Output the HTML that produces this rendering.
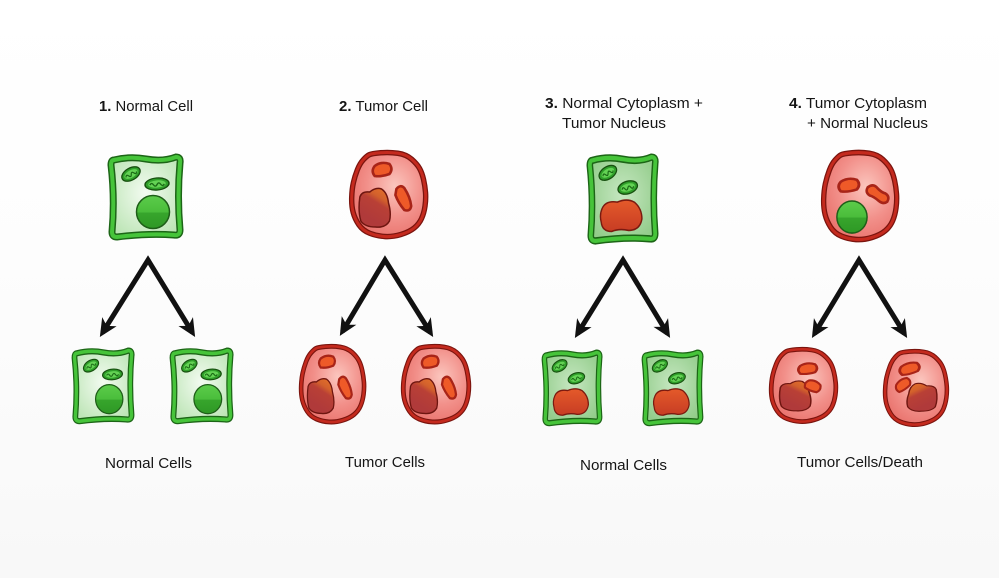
<!DOCTYPE html>
<html>
<head>
<meta charset="utf-8">
<style>
  html,body{margin:0;padding:0;}
  body{width:999px;height:578px;overflow:hidden;background:#fff;}
  svg{display:block;}
  text{font-family:"Liberation Sans",sans-serif;font-size:15px;fill:#151515;}
  .b{font-weight:bold;}
</style>
</head>
<body>
<svg width="999" height="578" viewBox="0 0 999 578" xmlns="http://www.w3.org/2000/svg">
<defs>
  <linearGradient id="bg" x1="0" y1="0" x2="0" y2="1">
    <stop offset="0" stop-color="#ffffff"/>
    <stop offset="0.45" stop-color="#fdfdfd"/>
    <stop offset="1" stop-color="#f8f8f8"/>
  </linearGradient>
  <radialGradient id="gL" cx="0.5" cy="0.45" r="0.62">
    <stop offset="0" stop-color="#f3fbf1"/>
    <stop offset="1" stop-color="#bde5b6"/>
  </radialGradient>
  <radialGradient id="gM" cx="0.5" cy="0.45" r="0.62">
    <stop offset="0" stop-color="#c6e7c1"/>
    <stop offset="1" stop-color="#92cc8a"/>
  </radialGradient>
  <radialGradient id="rT" cx="0.58" cy="0.4" r="0.62">
    <stop offset="0" stop-color="#fbc6be"/>
    <stop offset="0.6" stop-color="#f2908a"/>
    <stop offset="1" stop-color="#ea7670"/>
  </radialGradient>
  <linearGradient id="gN" x1="0" y1="0" x2="0" y2="1">
    <stop offset="0" stop-color="#5ccc4b"/>
    <stop offset="0.5" stop-color="#4abd3b"/>
    <stop offset="0.53" stop-color="#37a52c"/>
    <stop offset="1" stop-color="#2e9825"/>
  </linearGradient>
  <linearGradient id="rN" x1="0.8" y1="0" x2="0.4" y2="0.8">
    <stop offset="0" stop-color="#e2702a"/>
    <stop offset="0.3" stop-color="#d2602c"/>
    <stop offset="0.48" stop-color="#b94036"/>
    <stop offset="1" stop-color="#b03a3a"/>
  </linearGradient>
  <linearGradient id="oN" x1="0" y1="0" x2="0" y2="1">
    <stop offset="0" stop-color="#e45a2a"/>
    <stop offset="1" stop-color="#c73c24"/>
  </linearGradient>

  <path id="gp" d="M6,6 Q22,2 38,5 Q55,8 68,3 Q73,3 72,9 Q69,42 72,76 Q72,82 66,81 Q40,79 9,83 Q4,83 4,78 Q7,45 3,11 Q3,6 6,6 Z"/>
  <path id="rp" d="M33,1.75 Q42,1 50.5,2.25 Q59,3.5 64.5,8.25 Q70,13 72.5,17.5 Q75,22 76.5,28.5 Q78,35 78.5,41.5 Q79,48 78,55 Q77,62 74.5,67.5 Q72,73 67,77 Q62,81 53.5,83.5 Q45,86 37,85.5 Q29,85 22,82.25 Q15,79.5 11,73.75 Q7,68 5.25,61.5 Q3.5,55 3.75,46.5 Q4,38 5.5,31.5 Q7,25 9.5,18.75 Q12,12.5 15.5,8.75 Q19,5 21.5,3.75 Q24,2.5 33,1.75 Z"/>
  <path id="nuc" d="M2,10 Q4,4 12,5 Q18,0 24,2 Q30,6 31,16 Q34,26 32,34 Q28,41 18,40 Q7,40 3,34 Q0,24 2,10 Z" fill="url(#rN)" stroke="#6e1510" stroke-width="1.5"/>
  <path id="blob" d="M3,4 Q10,-1 18,2 Q22,7 18,12 Q10,15 3,14 Q-1,9 3,4 Z" fill="#ee5a28" stroke="#a82418" stroke-width="2.6"/>
  <path id="elong" d="M2,4 Q6,-1 10,3 Q16,12 17,21 Q16,27 10,25 Q4,18 1,10 Z" fill="#ee5a28" stroke="#a82418" stroke-width="2.6"/>
  <path id="dumb" d="M2,3 Q8,-1 12,4 Q16,8 20,9 Q25,12 22,17 Q18,20 13,16 Q8,12 4,11 Q-1,8 2,3 Z" fill="#ee5a28" stroke="#a82418" stroke-width="2.6"/>

  <g id="mito">
    <ellipse cx="0" cy="0" rx="10" ry="6" fill="#2f9f2a" stroke="#17500f" stroke-width="1.3"/>
    <ellipse cx="0" cy="0" rx="7.3" ry="3.7" fill="#63d254"/>
    <path d="M-6,0.5 q1.5,-3 3,0 t3,0 t3,0 t3,0" fill="none" stroke="#1a6a15" stroke-width="1.2"/>
  </g>

  <g id="g1">
    <use href="#gp" fill="url(#gL)" stroke="#1c6516" stroke-width="7"/>
    <use href="#gp" fill="none" stroke="#46c43a" stroke-width="4"/>
    <use href="#mito" transform="translate(23,20) rotate(-30)"/>
    <use href="#mito" transform="translate(49,30) rotate(-5) scale(1.2,1)"/>
    <circle cx="45" cy="58" r="16.5" fill="url(#gN)" stroke="#1e5e18" stroke-width="1.5"/>
  </g>

  <g id="g3">
    <use href="#gp" fill="url(#gM)" stroke="#1c6516" stroke-width="7"/>
    <use href="#gp" fill="none" stroke="#46c43a" stroke-width="4"/>
    <use href="#mito" transform="translate(22,18) rotate(-28)"/>
    <use href="#mito" transform="translate(43,32) rotate(-15) scale(1.05,1)"/>
    <path d="M16,52 Q20,44 32,46 Q42,42 50,46 Q58,52 58,62 Q56,73 44,73 Q34,71 26,74 Q16,74 15,65 Q13,58 16,52 Z" fill="url(#oN)" stroke="#7a1a10" stroke-width="1.5"/>
  </g>

  <g id="tb">
    <use href="#rp" fill="url(#rT)" stroke="#7a140e" stroke-width="5.5"/>
    <use href="#rp" fill="none" stroke="#c42a1e" stroke-width="3"/>
  </g>

  <g id="t2">
    <use href="#tb"/>
    <use href="#nuc" transform="translate(10,36)"/>
    <use href="#blob" transform="translate(24,11)"/>
    <use href="#elong" transform="translate(47,34)"/>
  </g>

  <marker id="ah" markerUnits="userSpaceOnUse" markerWidth="24" markerHeight="24" viewBox="-2 -12 24 24" refX="13" refY="0" orient="auto-start-reverse" overflow="visible">
    <path d="M0,-8.5 L18,0 L0,8.5 L5,0 Z" fill="#111"/>
  </marker>
</defs>

<rect x="0" y="0" width="999" height="578" fill="url(#bg)"/>

<text x="99" y="111" textLength="94" lengthAdjust="spacingAndGlyphs"><tspan class="b">1.</tspan> Normal Cell</text>
<text x="339" y="111" textLength="89" lengthAdjust="spacingAndGlyphs"><tspan class="b">2.</tspan> Tumor Cell</text>
<text x="545" y="108" textLength="158" lengthAdjust="spacingAndGlyphs"><tspan class="b">3.</tspan> Normal Cytoplasm +</text>
<text x="562" y="128" textLength="104" lengthAdjust="spacingAndGlyphs">Tumor Nucleus</text>
<text x="789" y="108" textLength="138" lengthAdjust="spacingAndGlyphs"><tspan class="b">4.</tspan> Tumor Cytoplasm</text>
<text x="807" y="128" textLength="121" lengthAdjust="spacingAndGlyphs">+ Normal Nucleus</text>

<text x="105" y="468" textLength="87" lengthAdjust="spacingAndGlyphs">Normal Cells</text>
<text x="345" y="467" textLength="80" lengthAdjust="spacingAndGlyphs">Tumor Cells</text>
<text x="580" y="470" textLength="87" lengthAdjust="spacingAndGlyphs">Normal Cells</text>
<text x="797" y="467" textLength="126" lengthAdjust="spacingAndGlyphs">Tumor Cells/Death</text>

<g fill="none" stroke="#111" stroke-width="5" stroke-linejoin="miter" stroke-miterlimit="10">
  <polyline points="102.5,332.7 148,260 192.5,332.7" marker-start="url(#ah)" marker-end="url(#ah)"/>
  <polyline points="342.4,331.6 385,260 430.5,332.7" marker-start="url(#ah)" marker-end="url(#ah)"/>
  <polyline points="577.5,333.7 623,260 667.5,333.6" marker-start="url(#ah)" marker-end="url(#ah)"/>
  <polyline points="814.5,333.7 859,260 904.5,333.7" marker-start="url(#ah)" marker-end="url(#ah)"/>
</g>

<use href="#g1" transform="translate(108,154)"/>
<use href="#g1" transform="translate(72,348) scale(0.827,0.882)"/>
<use href="#g1" transform="translate(170,348) scale(0.84,0.882)"/>

<use href="#t2" transform="translate(348,151) scale(0.9875,1)"/>
<use href="#t2" transform="translate(298,345) scale(0.84,0.9)"/>
<use href="#t2" transform="translate(400,345) scale(0.875,0.9)"/>

<use href="#g3" transform="translate(587,154) scale(0.947,1.047)"/>
<use href="#g3" transform="translate(542,350) scale(0.8,0.882)"/>
<use href="#g3" transform="translate(642,350) scale(0.813,0.882)"/>

<g transform="translate(820,151) scale(0.975,1.035)">
  <use href="#tb"/>
  <use href="#blob" transform="translate(18,26) scale(1.1,0.93)"/>
  <use href="#dumb" transform="translate(47,32)"/>
  <circle cx="32.8" cy="63.8" r="15.5" fill="url(#gN)" stroke="#1e5e18" stroke-width="1.5"/>
</g>

<g transform="translate(768,348) scale(0.8625,0.86)">
  <use href="#tb"/>
  <use href="#nuc" transform="translate(12,37) scale(1.15,0.9)"/>
  <use href="#blob" transform="translate(34,17) scale(1.14,0.93)"/>
  <use href="#blob" transform="translate(47,33) rotate(30) scale(0.95,0.95)"/>
</g>

<g transform="translate(882,350) scale(0.825,0.872)">
  <use href="#tb"/>
  <use href="#nuc" transform="translate(68,37) scale(-1.15,0.83)"/>
  <use href="#blob" transform="translate(19,16) rotate(-8) scale(1.28,0.95)"/>
  <use href="#blob" transform="translate(13,38) rotate(-25) scale(1.0,0.9)"/>
</g>
</svg>
</body>
</html>
